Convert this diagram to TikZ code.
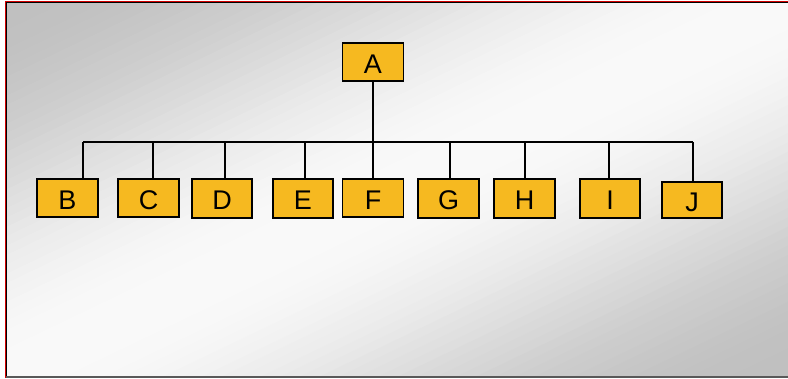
\documentclass[tikz,border=0pt]{standalone}
\usepackage{fontspec}
\setmainfont{Liberation Sans}
\definecolor{boxfill}{RGB}{246,185,32}
\definecolor{framered}{RGB}{210,0,0}
\begin{document}
\begin{tikzpicture}[x=1pt,y=-1pt,
  orgbox/.style={draw=black,line width=1.8pt,fill=boxfill,inner sep=0pt,
    font=\fontsize{27}{27}\selectfont,text height=23pt,text depth=0pt},
  conn/.style={draw=black,line width=1.3pt}]
\useasboundingbox (0,0) rectangle (788,379);
\fill[white] (0,0) rectangle (788,379);
% background gradient: grey corners (top-left, bottom-right), white diagonal
\begin{scope}
\clip (6,2) rectangle (788,377);
\foreach \i in {0,...,79}{
  \pgfmathsetmacro{\ta}{\i/80}
  \pgfmathsetmacro{\sa}{2*\i/80}
  \pgfmathsetmacro{\sb}{2*(\i+1.3)/80}
  \pgfmathtruncatemacro{\g}{192+58*(sin(180*(\i+0.5)/80))^2}
  \definecolor{stripc}{RGB}{\g,\g,\g}
  \fill[stripc] ({6+\sa*782},2) -- ({6+\sb*782},2) -- (6,{2+\sb*375}) -- (6,{2+\sa*375}) -- cycle;
}
\end{scope}
\draw[framered,line width=1.4pt] (5.3,378) -- (5.3,1.3) -- (788,1.3);
\draw[black,line width=1.2pt] (6.8,377) -- (6.8,2.8) -- (788,2.8);
\draw[gray!70!black,line width=1.2pt] (6,377) -- (788,377);
% nodes
\node[orgbox,minimum width=61pt,minimum height=38pt] (A) at (373,62) {A};
\node[orgbox,minimum width=61pt,minimum height=38pt] (B) at (67.5,198) {B};
\node[orgbox,minimum width=61pt,minimum height=38pt] (C) at (148.5,198) {C};
\node[orgbox,minimum width=60pt,minimum height=39pt] (D) at (222,198.5) {D};
\node[orgbox,minimum width=60pt,minimum height=39pt] (E) at (303,198.5) {E};
\node[orgbox,minimum width=61pt,minimum height=38pt] (F) at (373,198) {F};
\node[orgbox,minimum width=61pt,minimum height=39pt] (G) at (448.5,198.5) {G};
\node[orgbox,minimum width=61pt,minimum height=39pt] (H) at (524.5,198.5) {H};
\node[orgbox,minimum width=60pt,minimum height=39pt] (I) at (610,198.5) {I};
\node[orgbox,minimum width=60pt,minimum height=36pt] (J) at (692,200) {J};
% bus
\coordinate (bB) at (83,142);
\coordinate (bC) at (153,142);
\coordinate (bD) at (225,142);
\coordinate (bE) at (305,142);
\coordinate (bG) at (450,142);
\coordinate (bH) at (525,142);
\coordinate (bI) at (609,142);
\coordinate (bJ) at (693,142);
\draw[conn] (bB) -- (bJ);
\draw[conn] (A.south) -- (F.north);
\foreach \n in {B,C,D,E,G,H,I,J}{
  \draw[conn] (b\n) -- (b\n |- \n.north);
}
\end{tikzpicture}
\end{document}
